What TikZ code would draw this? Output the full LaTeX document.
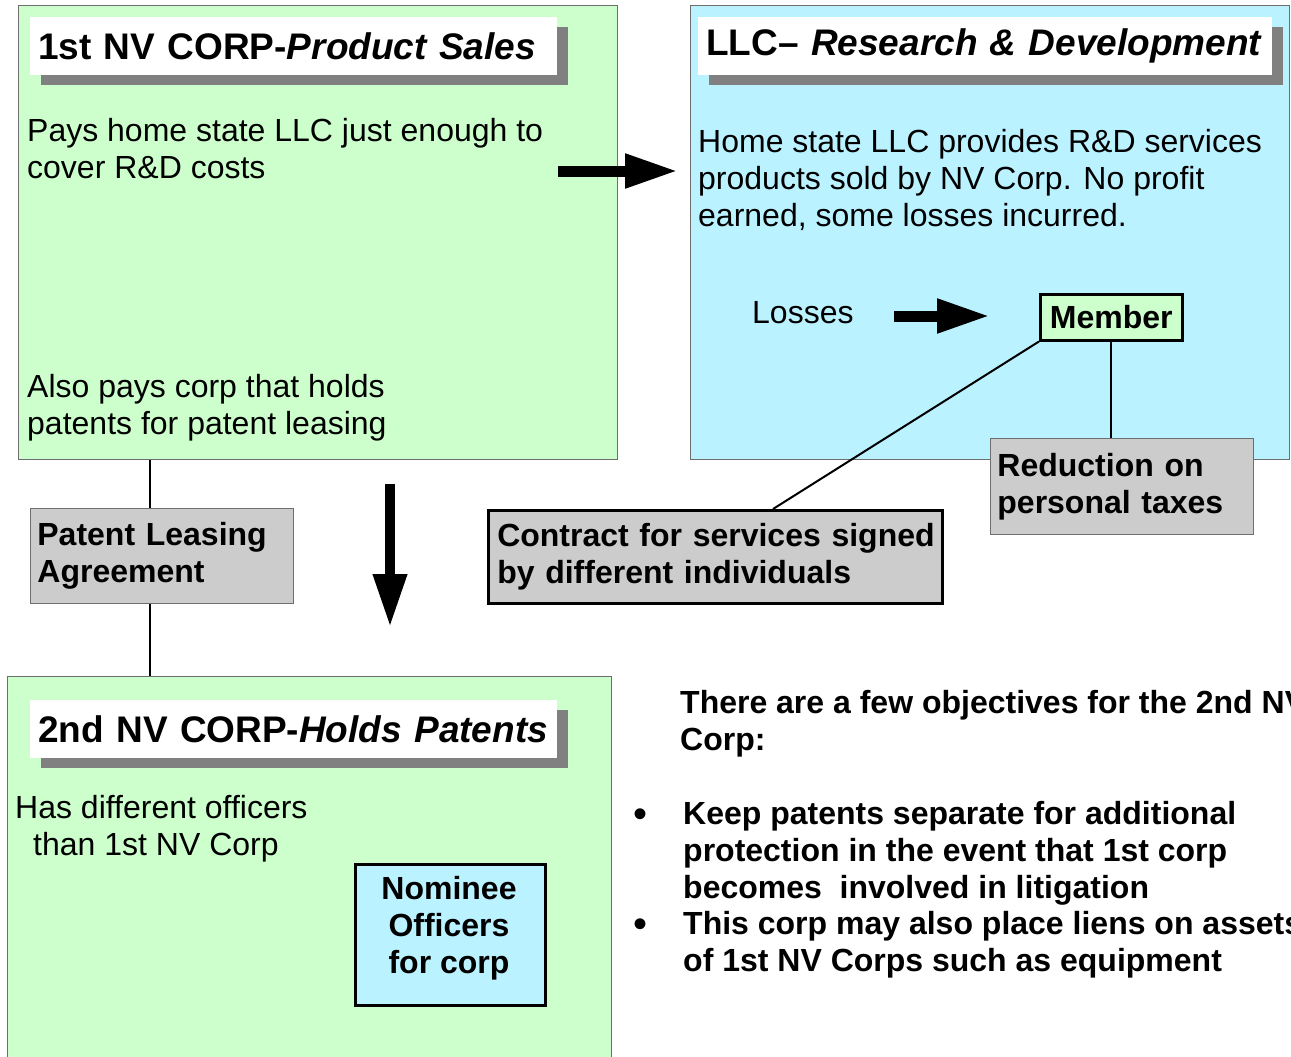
\documentclass[tikz,border=0pt]{standalone}
\usepackage{fontspec}
\setmainfont{Liberation Sans}
\usetikzlibrary{arrows.meta,shadows}
\definecolor{boxgreen}{RGB}{204,255,204}
\definecolor{boxblue}{RGB}{187,242,255}
\definecolor{boxgray}{RGB}{204,204,204}
\definecolor{shadowgray}{RGB}{128,128,128}
\definecolor{thinline}{RGB}{110,110,110}
\begin{document}
\begin{tikzpicture}[x=1pt,y=-1pt,
  region/.style={draw=thinline, line width=0.8pt, anchor=north west, inner sep=0pt},
  body/.style={font=\fontsize{32}{37}\selectfont, align=left, anchor=north west, inner sep=0pt},
  boldbody/.style={font=\fontsize{32}{37}\selectfont\bfseries, align=left, anchor=north west, inner sep=0pt},
  titlebox/.style={anchor=north west, fill=white, minimum height=58pt, inner xsep=8pt, inner ysep=0pt,
    align=left, font=\fontsize{37}{42}\selectfont\bfseries,
    drop shadow={shadow xshift=11pt, shadow yshift=-10pt, fill=shadowgray, opacity=1}},
  thickbox/.style={draw=black, line width=2.5pt, anchor=north west, font=\fontsize{32}{37}\selectfont\bfseries},
  thinbox/.style={draw=thinline, line width=0.8pt, fill=boxgray, anchor=north west, font=\fontsize{32}{37}\selectfont\bfseries},
  conn/.style={draw=black, line width=2pt},
  bigarrow/.style={draw=black, line width=11pt, -{Triangle[length=53pt,width=32pt]}},
  bulletmark/.style={font=\fontsize{40}{40}\selectfont, anchor=base, inner sep=0pt}
]
\useasboundingbox (0,0) rectangle (1291,1057);
\clip (0,0) rectangle (1291,1057);
\fill[white] (0,0) rectangle (1291,1057);

% regions
\node[region, fill=boxgreen, minimum width=599pt, minimum height=454pt] (box1) at (18,5) {};
\node[region, fill=boxblue, minimum width=599pt, minimum height=454pt] (box2) at (690,5) {};
\node[region, fill=boxgreen, minimum width=604pt, minimum height=400pt] (box3) at (7,676) {};

% titles
\node[titlebox, text width=511pt] (title1) at (30,17) {1st NV CORP-\textit{Product Sales}};
\node[titlebox, text width=558pt] (title2) at (698,17) {LLC– \textit{Research \& Development}};
\node[titlebox, text width=511pt] (title3) at (30,700) {2nd NV CORP-\textit{Holds Patents}};

% body texts
\node[body] (t1a) at (27,118) {Pays home state LLC just enough to\\cover R\&D costs};
\node[body] (t1b) at (27,374) {Also pays corp that holds\\patents for patent leasing};
\node[body] (t2a) at (698,129) {Home state LLC provides R\&D services\\products sold by NV Corp. No profit\\earned, some losses incurred.};
\node[body] (losses) at (752,301) {Losses};
\node[body] (t3a) at (15,795) {Has different officers\\\hspace*{18pt}than 1st NV Corp};

% boxes
\node[thickbox, fill=boxgreen, minimum width=142pt, minimum height=46pt, inner sep=0pt] (member) at (1039,293) {\raisebox{-3pt}{Member}};
\node[thinbox, minimum width=263pt, minimum height=96pt, text width=249pt, inner xsep=7pt, align=left] (reduction) at (990,438) {Reduction on\\personal taxes};
\node[thickbox, fill=boxgray, minimum width=454pt, minimum height=93pt, text width=444pt, inner xsep=5pt, align=left] (contract) at (487,509) {\hspace*{4pt}Contract for services signed\\\hspace*{4pt}by different individuals};
\node[thinbox, minimum width=263pt, minimum height=95pt, text width=249pt, inner xsep=7pt, align=left] (patent) at (30,508) {Patent Leasing\\Agreement};
\node[thickbox, fill=boxblue, minimum width=190pt, minimum height=141pt, inner sep=0pt] (nominee) at (354,863) {};
\node[font=\fontsize{32}{37}\selectfont\bfseries, align=center, inner sep=0pt] (nomtext) at (449,928) {Nominee\\Officers\\for corp};

% right text
\node[boldbody] (objhead) at (680,690) {There are a few objectives for the 2nd NV\\Corp:};
\node[boldbody] (item1) at (683,801) {Keep patents separate for additional\\protection in the event that 1st corp\\becomes\ \ involved in litigation};
\node[boldbody] (item2) at (683,911) {This corp may also place liens on assets\\of 1st NV Corps such as equipment};
\node[bulletmark] (bul1) at (640,827) {•};
\node[bulletmark] (bul2) at (640,937) {•};

% connectors
\coordinate (plx) at (150,0);
\coordinate (cx) at (773,0);
\draw[draw=black, line width=1.5pt] (box1.south -| plx) -- (patent.north -| plx);
\draw[draw=black, line width=1.5pt] (patent.south -| plx) -- (box3.north -| plx);
\draw[conn] (member.south west) -- (contract.north -| cx);
\draw[conn] (member.south) -- (reduction.north -| member.south);

% arrows
\coordinate (a1s) at (558,171);
\coordinate (a1e) at (678,171);
\coordinate (a2s) at (894,316);
\coordinate (a2e) at (990,316);
\coordinate (a3s) at (390,484);
\coordinate (a3e) at (390,627);
\draw[bigarrow] (a1s) -- (a1e);
\draw[bigarrow] (a2s) -- (a2e);
\draw[bigarrow, line width=10pt] (a3s) -- (a3e);
\end{tikzpicture}
\end{document}
